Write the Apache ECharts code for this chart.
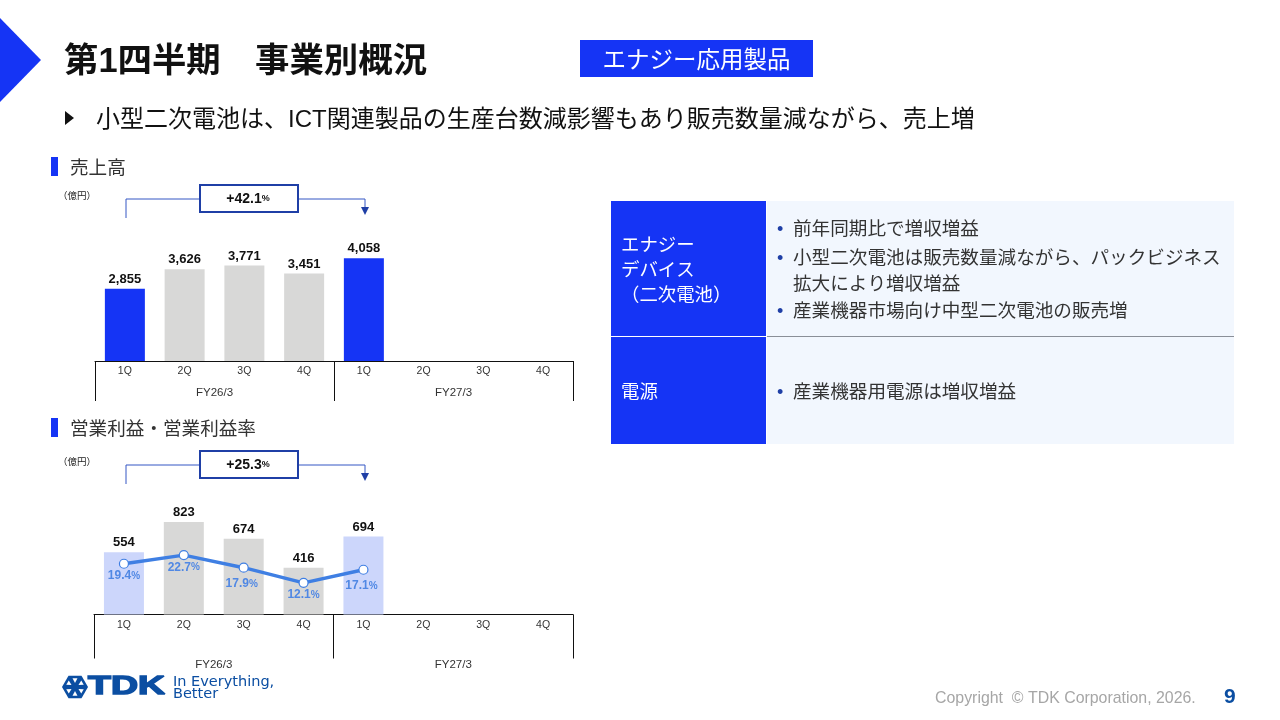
<!DOCTYPE html>
<html>
<head>
<meta charset="utf-8">
<title>第1四半期 事業別概況</title>
<style>
html, body { margin: 0; padding: 0; background: #fff; }
#main { width: 1280px; height: 720px; }
</style>
<script src="https://cdn.jsdelivr.net/npm/echarts@6/dist/echarts.min.js"></script>
</head>
<body>
<div id="main"></div>
<script>
// チャートのデータ
var quarters = ['1Q', '2Q', '3Q', '4Q', '1Q', '2Q', '3Q', '4Q'];
var fiscalYears = ['FY26/3', 'FY27/3'];
var sales = [2855, 3626, 3771, 3451, 4058, null, null, null];
var profit = [554, 823, 674, 416, 694, null, null, null];
var margin = [19.4, 22.7, 17.9, 12.1, 17.1, null, null, null];
var salesGrowth = '+42.1';
var profitGrowth = '+25.3';

var FONT = '"Liberation Sans","Noto Sans CJK JP",sans-serif';
var BLUE = '#1534F5';
var LIGHT_BLUE = '#CCD6FB';
var GREY = '#D8D8D7';
var LINE_BLUE = '#3F7FE3';
var LABEL_BLUE = '#5088E4';
var DARK_BLUE = '#1F3FA6';
var LOGO_BLUE = '#0B4EA2';

var myChart = echarts.init(document.getElementById('main'));

function txt(x, y, s, size, color, weight, align, family) {
	return {
		type: 'text', silent: true, x: x, y: y, z: 10,
		style: {
			text: s, fontFamily: family || FONT, fontSize: size, fill: color || '#222',
			fontWeight: weight || 'normal', textAlign: align || 'left', textVerticalAlign: 'middle'
		}
	};
}

function box(x, y, w, h, color, stroke, lw) {
	return {
		type: 'rect', silent: true, z: 5,
		shape: { x: x, y: y, width: w, height: h },
		style: { fill: color, stroke: stroke || null, lineWidth: lw || 0 }
	};
}

function poly(points, color) {
	return { type: 'polygon', silent: true, z: 6, shape: { points: points }, style: { fill: color } };
}

function path(points, color, lw) {
	return { type: 'polyline', silent: true, z: 4, shape: { points: points }, style: { stroke: color, lineWidth: lw, fill: null } };
}

// 増減率の枠と矢印
function growthBracket(top, growth) {
	var mid = top + 14;
	return [
		path([[126, mid + 19], [126, mid], [365, mid], [365, mid + 10]], '#3556C4', 1),
		poly([[361, mid + 8], [369, mid + 8], [365, mid + 16]], DARK_BLUE),
		box(200, top, 98, 27, '#fff', DARK_BLUE, 2),
		{
			type: 'text', silent: true, x: 248, y: top + 14, z: 10,
			style: {
				text: '{a|' + growth + '}{b|%}', textAlign: 'center', textVerticalAlign: 'middle',
				rich: {
					a: { fontFamily: FONT, fontSize: 14, fontWeight: 'bold', fill: '#111' },
					b: { fontFamily: FONT, fontSize: 9, fontWeight: 'bold', fill: '#111' }
				}
			}
		}
	];
}

function sectionHead(y, s) {
	return [box(51, y - 11, 7, 19, BLUE), txt(70, y + 1, s, 18.6, '#333')];
}

// ロゴ
function logo() {
	var c = [75, 687], i, out = [], hex = [], r = 13;
	var p = function (rad, ang) { return [c[0] + rad * Math.cos(ang), c[1] + rad * Math.sin(ang)]; };
	for (i = 0; i < 6; i++) {
		hex.push(p(r, Math.PI / 3 * i));
	}
	out.push(poly(hex, LOGO_BLUE));
	for (i = 0; i < 6; i++) {
		var a = Math.PI / 3 * i + Math.PI / 6;
		out.push(poly([p(4, a), p(9, a - 0.28), p(9, a + 0.28)], '#fff'));
	}
	out.push({
		type: 'text', silent: true, x: 88, y: 687, z: 10, scaleX: 1.5,
		style: {
			text: 'TDK', fontFamily: FONT, fontSize: 25, fontWeight: 'bold', fill: LOGO_BLUE,
			stroke: LOGO_BLUE, lineWidth: 1.4, textVerticalAlign: 'middle'
		}
	});
	out.push(txt(173, 682, 'In Everything,', 14.5, LOGO_BLUE, 'normal', 'left', '"DejaVu Sans"'));
	out.push(txt(173, 694, 'Better', 14.5, LOGO_BLUE, 'normal', 'left', '"DejaVu Sans"'));
	return out;
}

var graphics = [
	poly([[0, 18], [41, 60], [0, 102]], BLUE),
	txt(64, 63, '第1四半期　事業別概況', 34.4, '#111', 'bold'),
	box(580, 40, 233, 37, BLUE),
	txt(696.5, 62, 'エナジー応用製品', 23.5, '#fff', 'normal', 'center'),
	poly([[65, 111], [74, 118], [65, 125]], '#111'),
	txt(96, 120, '小型二次電池は、ICT関連製品の生産台数減影響もあり販売数量減ながら、売上増', 24, '#111'),
	txt(58, 196, '（億円）', 9.5, '#222'),
	txt(58, 462, '（億円）', 9.5, '#222'),

	// 右の表
	box(611, 201, 155, 135, BLUE),
	box(611, 337, 155, 107, BLUE),
	box(767, 201, 467, 135, '#F2F7FE'),
	box(767, 337, 467, 107, '#F2F7FE'),
	box(767, 336, 467, 1, '#8A8F98'),
	txt(621, 245.5, 'エナジー', 18.4, '#fff'),
	txt(621, 270.5, 'デバイス', 18.4, '#fff'),
	txt(621, 295.5, '（二次電池）', 18.4, '#fff'),
	txt(621, 392.5, '電源', 18.4, '#fff'),
	txt(777, 230, '•', 18, DARK_BLUE),
	txt(793, 230, '前年同期比で増収増益', 18.6, '#333'),
	txt(777, 259, '•', 18, DARK_BLUE),
	txt(793, 259, '小型二次電池は販売数量減ながら、パックビジネス', 18.6, '#333'),
	txt(793, 285, '拡大により増収増益', 18.6, '#333'),
	txt(777, 312, '•', 18, DARK_BLUE),
	txt(793, 312, '産業機器市場向け中型二次電池の販売増', 18.6, '#333'),
	txt(777, 393, '•', 18, DARK_BLUE),
	txt(793, 393, '産業機器用電源は増収増益', 18.6, '#333'),

	// フッター
	txt(935, 699, 'Copyright  © TDK Corporation, 2026.', 15.9, '#A6A6A6'),
	txt(1224, 697, '9', 21, LOGO_BLUE, 'bold')
];
graphics = graphics
	.concat(sectionHead(168, '売上高'))
	.concat(sectionHead(429, '営業利益・営業利益率'))
	.concat(growthBracket(185, salesGrowth))
	.concat(growthBracket(451, profitGrowth))
	.concat(logo());

function quarterAxis(gridIndex) {
	return {
		type: 'category', gridIndex: gridIndex, data: quarters, position: 'bottom',
		axisLine: { show: false }, axisTick: { show: false },
		axisLabel: { margin: 5, fontSize: 10.5, color: '#333', fontFamily: FONT, interval: 0 }
	};
}

function yearAxis(gridIndex, tickLen, labelMargin) {
	return {
		type: 'category', gridIndex: gridIndex, data: fiscalYears, position: 'bottom',
		axisLine: { show: true, onZero: false, lineStyle: { color: '#111', width: 1 } },
		axisTick: { show: true, length: tickLen, interval: 0, lineStyle: { color: '#111', width: 1 } },
		axisLabel: { margin: labelMargin, fontSize: 11.5, color: '#333', fontFamily: FONT, interval: 0 }
	};
}

function barColor(highlight) {
	return function (params) {
		// 各年度の1Qのみ色付き
		return params.dataIndex % 4 === 0 ? highlight : GREY;
	};
}

function thousands(params) {
	return params.value == null ? '' : echarts.format.addCommas(params.value);
}

myChart.setOption({
	animation: false,
	backgroundColor: '#fff',
	tooltip: { show: false },
	graphic: { elements: graphics },
	grid: [
		{ left: 95, top: 209, width: 478, height: 152 },
		{ left: 94, top: 502, width: 479, height: 112.5 }
	],
	xAxis: [quarterAxis(0), yearAxis(0, 40, 26), quarterAxis(1), yearAxis(1, 44, 45)],
	yAxis: [
		{ type: 'value', gridIndex: 0, min: 0, max: 6000, show: false },
		{ type: 'value', gridIndex: 1, min: 0, max: 1000, show: false },
		{ type: 'value', gridIndex: 1, min: 0, max: 43, show: false }
	],
	series: [
		{
			name: '売上高', type: 'bar', xAxisIndex: 0, yAxisIndex: 0, data: sales, barWidth: 40,
			itemStyle: { color: barColor(BLUE) },
			label: {
				show: true, position: 'top', distance: 3, formatter: thousands,
				fontFamily: FONT, fontSize: 13, fontWeight: 'bold', color: '#111'
			}
		},
		{
			name: '営業利益', type: 'bar', xAxisIndex: 2, yAxisIndex: 1, data: profit, barWidth: 40,
			itemStyle: { color: barColor(LIGHT_BLUE) },
			label: {
				show: true, position: 'top', distance: 3, formatter: thousands,
				fontFamily: FONT, fontSize: 13, fontWeight: 'bold', color: '#111'
			}
		},
		{
			name: '営業利益率', type: 'line', xAxisIndex: 2, yAxisIndex: 2, data: margin, z: 5,
			symbol: 'circle', symbolSize: 9,
			lineStyle: { color: LINE_BLUE, width: 3.5 },
			itemStyle: { color: '#fff', borderColor: LINE_BLUE, borderWidth: 1.2 },
			label: {
				show: true, position: 'bottom', distance: 1,
				formatter: function (params) {
					return '{a|' + params.value.toFixed(1) + '}{b|%}';
				},
				rich: {
					a: { fontFamily: FONT, fontSize: 12, fontWeight: 'bold', color: LABEL_BLUE },
					b: { fontFamily: FONT, fontSize: 10, fontWeight: 'bold', color: LABEL_BLUE }
				}
			},
			// 3Qと次年度1Qのラベルだけ少し下にずれている
			labelLayout: function (params) {
				var i = params.dataIndex;
				return (i === 2 || i === 4) ? { dx: -2, dy: 4 } : {};
			}
		}
	]
});
</script>
</body>
</html>
